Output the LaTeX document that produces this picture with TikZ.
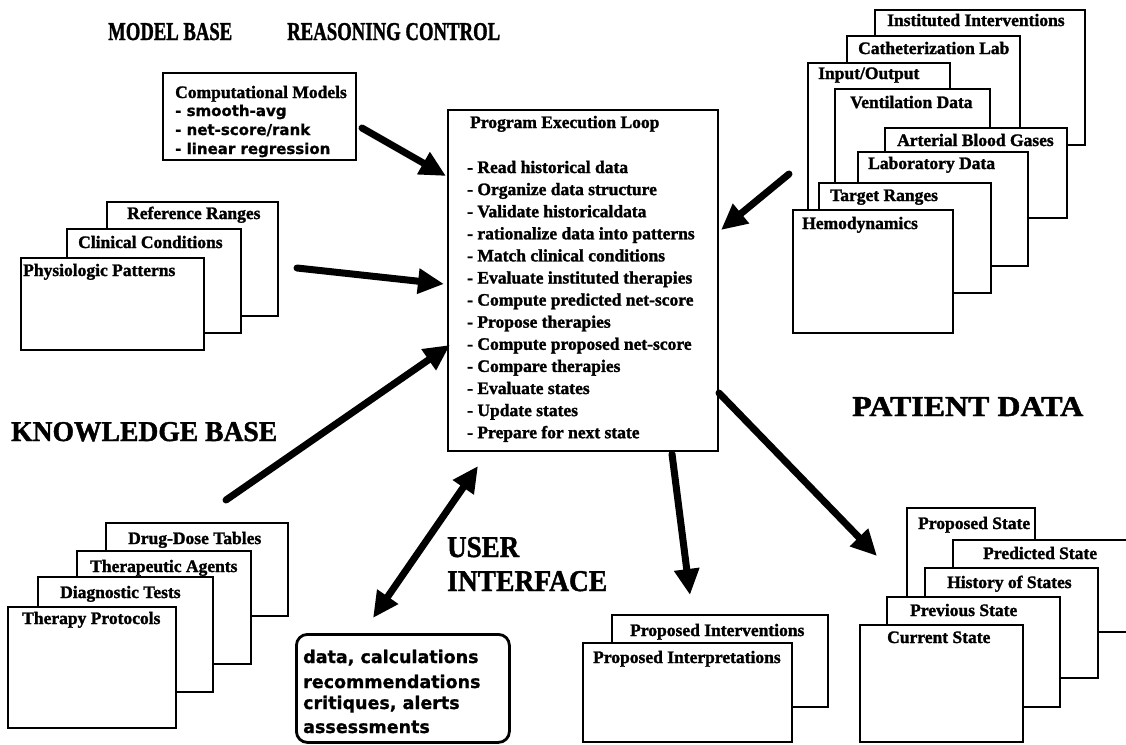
\documentclass[tikz,border=0pt]{standalone}
\usepackage{fontspec}
\usepackage{graphicx}
\setmainfont{Liberation Serif}[BoldFeatures={FakeBold=1.5}]
\newfontfamily\uifont{DejaVu Sans}[BoldFeatures={FakeBold=1}]
\usetikzlibrary{arrows.meta}

% a framed sheet given by its corners (x1,y1) (x2,y2)
\newcommand\sheet[5]{%
  \node[panel, anchor=north west,
        minimum width={(#4-#2)*1pt}, minimum height={(#5-#3)*1pt}] (#1) at (#2,#3) {};}
% a sheet title, left end and vertical middle
\newcommand\sheettitle[4]{\node[lbl] (#1) at (#2,{#3+6}) {#4};}
% a big section heading, scaled to a given width and cap height
\newcommand\heading[6]{%
  \node[anchor=base west, inner sep=0pt] (#1) at (#2,#3)
    {\resizebox{#4pt}{#5pt}{\bfseries #6}};}

\begin{document}
\begin{tikzpicture}[x=1pt, y=-1pt,
  panel/.style={draw=black, line width=2.8pt, fill=white, rectangle, inner sep=0pt, outer sep=0pt},
  lbl/.style={font=\fontsize{17.5}{20}\selectfont\bfseries, inner sep=0pt, anchor=base west},
  sans/.style={font=\uifont\fontsize{15}{17}\selectfont\bfseries, inner sep=0pt, anchor=base west},
  uitext/.style={font=\uifont\fontsize{17.5}{19}\selectfont\bfseries, inner sep=0pt, anchor=base west},
  fat/.style={line width=7pt, line cap=round, -{Triangle[length=26pt,width=24pt]}},
  fatboth/.style={line width=7pt, {Triangle[length=26pt,width=24pt]}-{Triangle[length=26pt,width=24pt]}},
]
\useasboundingbox (0,0) rectangle (1126,744);
\clip (0,0) rectangle (1126,744);
\fill[white] (0,0) rectangle (1126,744);

% ---------- section headings ----------
\heading{h-model}{108}{40}{124}{17}{MODEL BASE}
\heading{h-reason}{287}{40}{213}{17}{REASONING CONTROL}
\heading{h-know}{11}{441}{266}{19}{KNOWLEDGE BASE}
\heading{h-patient}{852}{416}{231}{19}{PATIENT DATA}
\heading{h-user}{447}{557}{72}{20}{USER}
\heading{h-iface}{447}{591}{160}{20}{INTERFACE}

% ---------- model base ----------
\sheet{models}{163}{73}{356}{160}
\sheettitle{models-t}{175}{92}{Computational Models}
\node[sans] (models-1) at (175,116) {- smooth-avg};
\node[sans] (models-2) at (175,135) {- net-score/rank};
\node[sans] (models-3) at (175,154) {- linear regression};

% ---------- knowledge base, upper stack ----------
\sheet{refr}{107}{202}{278}{316}
\sheettitle{refr-t}{127}{213}{Reference Ranges}
\sheet{clin}{67}{229}{241}{333}
\sheettitle{clin-t}{78}{242}{Clinical Conditions}
\sheet{phys}{21}{258}{204}{350}
\sheettitle{phys-t}{23}{270}{Physiologic Patterns}

% ---------- knowledge base, lower stack ----------
\sheet{drug}{106}{523}{288}{616}
\sheettitle{drug-t}{128}{538}{Drug-Dose Tables}
\sheet{agent}{77}{551}{251}{664}
\sheettitle{agent-t}{90}{566}{Therapeutic Agents}
\sheet{diag}{38}{577}{213}{692}
\sheettitle{diag-t}{60}{592}{Diagnostic Tests}
\sheet{proto}{8}{607}{176}{728}
\sheettitle{proto-t}{22}{618}{Therapy Protocols}

% ---------- patient data, upper stack ----------
\sheet{inst}{875}{10}{1085}{145}
\sheettitle{inst-t}{887}{20}{Instituted Interventions}
\sheet{cath}{847}{36}{1020}{200}
\sheettitle{cath-t}{858}{48}{Catheterization Lab}
\sheet{io}{808}{63}{950}{300}
\sheettitle{io-t}{818}{73}{Input/Output}
\sheet{vent}{835}{89}{990}{270}
\sheettitle{vent-t}{850}{102}{Ventilation Data}
\sheet{abg}{885}{128}{1067}{218}
\sheettitle{abg-t}{897}{140}{Arterial Blood Gases}
\sheet{lab}{858}{152}{1028}{266}
\sheettitle{lab-t}{868}{163}{Laboratory Data}
\sheet{target}{819}{183}{991}{293}
\sheettitle{target-t}{830}{195}{Target Ranges}
\sheet{hemo}{793}{210}{953}{333}
\sheettitle{hemo-t}{802}{223}{Hemodynamics}

% ---------- patient data, states ----------
\sheet{propst}{907}{508}{1035}{600}
\sheettitle{propst-t}{918}{523}{Proposed State}
\sheet{predst}{953}{540}{1140}{632}
\sheettitle{predst-t}{983}{553}{Predicted State}
\sheet{hist}{925}{568}{1098}{678}
\sheettitle{hist-t}{947}{582}{History of States}
\sheet{prev}{887}{597}{1060}{707}
\sheettitle{prev-t}{910}{610}{Previous State}
\sheet{curr}{860}{625}{1023}{742}
\sheettitle{curr-t}{887}{637}{Current State}

% ---------- proposals ----------
\sheet{pint}{612}{615}{828}{707}
\sheettitle{pint-t}{630}{630}{Proposed Interventions}
\sheet{pinterp}{583}{643}{792}{742}
\sheettitle{pinterp-t}{593}{657}{Proposed Interpretations}

% ---------- user interface ----------
\node[draw=black, line width=2.8pt, rounded corners=11pt, fill=white, anchor=north west,
      minimum width=213pt, minimum height=108pt, inner sep=0pt] (ui) at (295,633) {};
\node[uitext] (ui-1) at (303,663) {data, calculations};
\node[uitext] (ui-2) at (303,688) {recommendations};
\node[uitext] (ui-3) at (303,709) {critiques, alerts};
\node[uitext] (ui-4) at (303,733) {assessments};

% ---------- reasoning control ----------
\sheet{loop}{448}{110}{718}{451}
\sheettitle{loop-t}{470}{122}{Program Execution Loop}
\foreach \t [count=\i] in {Read historical data, Organize data structure,
    Validate historicaldata, rationalize data into patterns,
    Match clinical conditions, Evaluate instituted therapies,
    Compute predicted net-score, Propose therapies,
    Compute proposed net-score, Compare therapies,
    Evaluate states, Update states, Prepare for next state}
  \node[lbl] (loop-\i) at (467,{173+(\i-1)*22.1}) {- \t};

% ---------- flows ----------
\coordinate (models-out) at (362,128);
\coordinate (loop-in1) at (446,176);
\coordinate (refr-out) at (297,268);
\coordinate (loop-in2) at (444,284);
\coordinate (drug-out) at (226,500);
\coordinate (loop-in3) at (450,345);
\coordinate (ui-port) at (373,618);
\coordinate (loop-ui) at (478,466);
\coordinate (loop-out1) at (672,454);
\coordinate (pint-in) at (690,595);
\coordinate (loop-out2) at (719,393);
\coordinate (states-in) at (877,556);
\coordinate (hemo-out) at (789,174);
\coordinate (loop-in4) at (721,230);

\draw[fat] (models-out) -- (loop-in1);
\draw[fat] (refr-out) -- (loop-in2);
\draw[fat] (drug-out) -- (loop-in3);
\draw[fatboth] (ui-port) -- (loop-ui);
\draw[fat] (loop-out1) -- (pint-in);
\draw[fat] (loop-out2) -- (states-in);
\draw[fat] (hemo-out) -- (loop-in4);
\end{tikzpicture}
\end{document}
